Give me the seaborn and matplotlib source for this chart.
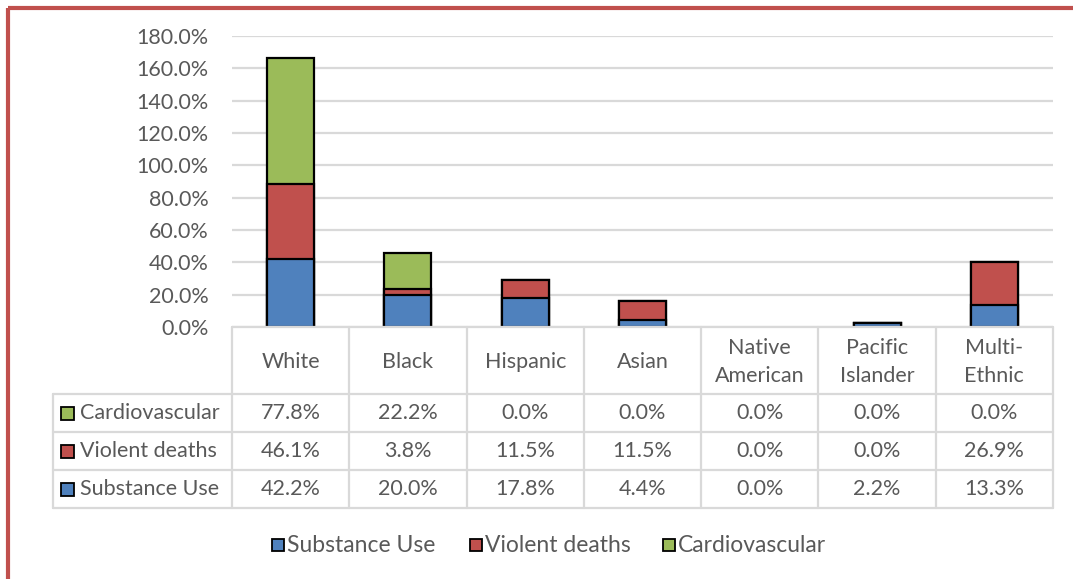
import numpy as np
import matplotlib
matplotlib.use("Agg")
import matplotlib.pyplot as plt
from matplotlib.patches import Rectangle
from matplotlib.ticker import FuncFormatter
import seaborn as sns

# Data (percent)
groups = ["White", "Black", "Hispanic", "Asian", "Native\nAmerican", "Pacific\nIslander", "Multi-\nEthnic"]
substance_use = [42.2, 20.0, 17.8, 4.4, 0.0, 2.2, 13.3]
violent_deaths = [46.1, 3.8, 11.5, 11.5, 0.0, 0.0, 26.9]
cardiovascular = [77.8, 22.2, 0.0, 0.0, 0.0, 0.0, 0.0]
series_names = ["Substance Use", "Violent deaths", "Cardiovascular"]
y_ticks = [0, 20, 40, 60, 80, 100, 120, 140, 160, 180]

BLUE, RED, GREEN = "#4F81BD", "#C0504D", "#9BBB59"
TEXT = "#595959"
GRID = "#D9D9D9"

sns.set_theme(style="white")
plt.rcParams["font.family"] = ["Lato", "DejaVu Sans"]

W, H = 1073, 579
fig = plt.figure(figsize=(W / 100, H / 100), dpi=100)

# pixel helpers
def fx(px):
    return px / W

def fy(py):
    return 1 - py / H

left_px, right_px, top_px, zero_px = 232, 1053, 36, 327
ax = fig.add_axes([fx(left_px), fy(zero_px), fx(right_px - left_px), (zero_px - top_px) / H])

su = np.array(substance_use) / 100
vd = np.array(violent_deaths) / 100
cv = np.array(cardiovascular) / 100
layers = [(su + vd + cv, GREEN), (su + vd, RED), (su, BLUE)]
labels_flat = [g.replace("\n", " ") for g in groups]
for totals, col in layers:
    sns.barplot(x=labels_flat, y=totals, color=col, saturation=1, width=0.4,
                edgecolor="black", linewidth=1.6, ax=ax, zorder=3)
for p in ax.patches:
    if p.get_height() <= 0:
        p.set_linewidth(0)

fs = 15.5
ax.set_ylim(0, 1.8)
ax.set_xlim(-0.5, len(groups) - 0.5)
ax.set_yticks(np.array(y_ticks) / 100)
ax.yaxis.set_major_formatter(FuncFormatter(lambda v, _: f"{v * 100:.1f}%"))
ax.tick_params(axis="y", labelsize=fs, labelcolor=TEXT, length=0, pad=17)
ax.set_xticks([])
ax.set_xlabel("")
ax.set_ylabel("")
ax.grid(axis="y", color=GRID, linewidth=1.6, zorder=0)
ax.set_axisbelow(True)
for s in ax.spines.values():
    s.set_visible(False)

# overlay in pixel coordinates for the data table, legend and frame
ov = fig.add_axes([0, 0, 1, 1], zorder=5)
ov.set_xlim(0, W)
ov.set_ylim(H, 0)
ov.axis("off")
ov.patch.set_alpha(0)

n = len(groups)
col_w = (right_px - left_px) / n
col_edges = [left_px + i * col_w for i in range(n + 1)]
table_left = 53
row_edges = [zero_px, 394, 432, 470, 508]
lw_t = 1.6

# horizontal lines
ov.plot([left_px, right_px], [row_edges[0]] * 2, color=GRID, lw=lw_t)
for yy in row_edges[1:]:
    ov.plot([table_left, right_px], [yy, yy], color=GRID, lw=lw_t)
# vertical lines
for xx in col_edges:
    ov.plot([xx, xx], [row_edges[0], row_edges[-1]], color=GRID, lw=lw_t)
ov.plot([table_left, table_left], [row_edges[1], row_edges[-1]], color=GRID, lw=lw_t)

centers = [(col_edges[i] + col_edges[i + 1]) / 2 for i in range(n)]
for c, g in zip(centers, groups):
    ov.text(c, (row_edges[0] + row_edges[1]) / 2 + 1, g, ha="center", va="center",
            fontsize=fs, color=TEXT, linespacing=1.5)

table_rows = [("Cardiovascular", cardiovascular, GREEN),
              ("Violent deaths", violent_deaths, RED),
              ("Substance Use", substance_use, BLUE)]
for r, (name, vals, col) in enumerate(table_rows):
    yc = (row_edges[r + 1] + row_edges[r + 2]) / 2
    ov.add_patch(Rectangle((61, yc - 6.5), 13, 13, facecolor=col, edgecolor="black", lw=1.3))
    ov.text(80, yc, name, ha="left", va="center", fontsize=fs, color=TEXT)
    for c, v in zip(centers, vals):
        ov.text(c, yc, f"{v:.1f}%", ha="center", va="center", fontsize=fs, color=TEXT)

# legend
leg_y = 545
leg_items = [(272, series_names[0], BLUE), (470, series_names[1], RED), (663, series_names[2], GREEN)]
for x0, name, col in leg_items:
    ov.add_patch(Rectangle((x0, leg_y - 6.5), 12, 12, facecolor=col, edgecolor="black", lw=1.3))
    ov.text(x0 + 15, leg_y, name, ha="left", va="center", fontsize=16.5, color=TEXT)

# frame edges
ov.plot([8, 8], [8, H], color="#C0504D", lw=3, solid_capstyle="butt")
ov.plot([8, W], [8, 8], color="#C0504D", lw=3, solid_capstyle="butt")

fig.savefig("out.png", dpi=100, facecolor="white")
